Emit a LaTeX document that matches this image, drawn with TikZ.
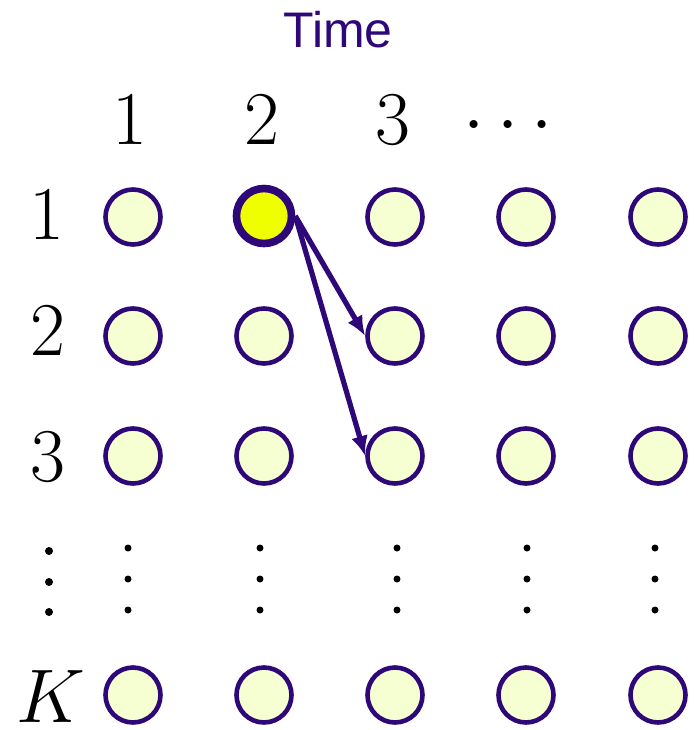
\RequirePackage{fix-cm}
\documentclass[tikz,border=0pt]{standalone}
\usepackage{fontspec}
\newfontfamily\titlefont{Liberation Sans}
\usetikzlibrary{arrows.meta}
\definecolor{ink}{RGB}{46,8,120}
\definecolor{paleyel}{RGB}{246,255,210}
\definecolor{brightyel}{RGB}{240,255,0}
\begin{document}
\begin{tikzpicture}[x=0.5pt,y=-0.5pt,
  state/.style={circle,draw=ink,fill=paleyel,line width=2.3pt,minimum size=27.5pt,inner sep=0pt},
  hot/.style={state,fill=brightyel,line width=3.8pt},
  lab/.style={font=\fontsize{38}{38}\selectfont,inner sep=0pt},
  vdot/.style={fill=black,draw=none},
  conn/.style={draw=ink,line width=2.6pt,-{Latex[length=10pt,width=8.5pt]}}]
\useasboundingbox (0,0) rectangle (694,730);
% title
\node[font=\titlefont\fontsize{25}{25}\selectfont,text=ink,anchor=base,inner sep=0pt] (title) at (338,47) {Time};
% column labels
\node[lab] (c1) at (130,120) {$1$};
\node[lab] (c2) at (262,120) {$2$};
\node[lab] (c3) at (393,120) {$3$};
\node[lab,anchor=base] (cdots) at (508,143) {$\cdots$};
% row labels
\node[lab] (r1) at (47,215) {$1$};
\node[lab] (r2) at (48,331) {$2$};
\node[lab] (r3) at (48,457) {$3$};
\node[lab] (rK) at (51,697) {$K$};
% grid of states
\foreach \r/\y in {1/217,2/336,3/456,K/695}{
  \foreach \c/\x in {1/133,2/264,3/395,4/526,5/658}{
    \node[state] (n\r\c) at (\x,\y) {};
  }
}
\node[hot] (h) at (264,216) {};
% vertical dots
\foreach \y in {551,582,612}{ \fill[vdot] (49,\y) circle (2pt); }
\foreach \x in {128,260,397,527,655}{
  \foreach \y in {548,579,610}{ \fill[vdot] (\x,\y) circle (1.75pt); }
}
% arrows
\draw[conn] (h.east) -- (n23.west);
\draw[conn] (h.east) -- (n33.west);
\end{tikzpicture}
\end{document}
